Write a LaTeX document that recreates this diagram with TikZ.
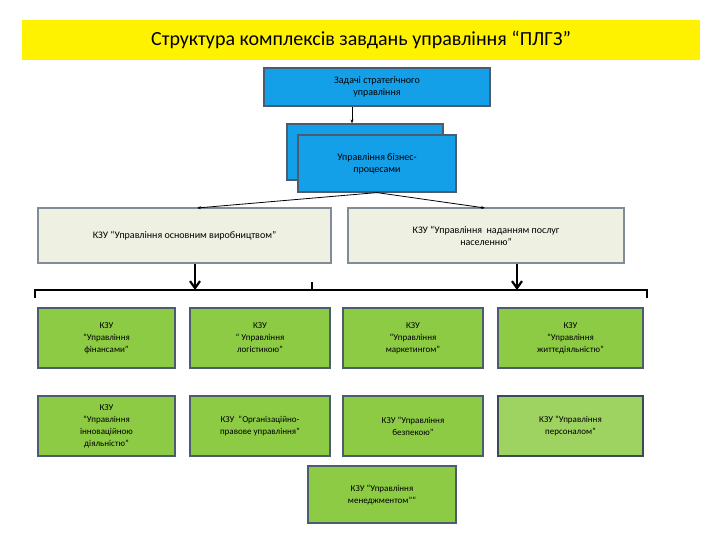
\documentclass[tikz,border=0pt]{standalone}
\usepackage{fontspec}
\setmainfont{Carlito}
\usetikzlibrary{arrows.meta}
\definecolor{blu}{HTML}{14A0E8}
\definecolor{grn}{HTML}{8DCB45}
\definecolor{beige}{HTML}{EEF0E2}
\definecolor{bord}{HTML}{4A5C6E}
\tikzset{
 bx/.style={draw=bord,line width=1.2pt,minimum width=#1,align=center,inner sep=2pt},
 bluebox/.style={bx=#1,fill=blu,font=\fontsize{10}{12}\selectfont},
 bgbox/.style={bx=#1,fill=beige,draw=bord!70,font=\fontsize{10}{12}\selectfont},
 gbox/.style={bx=#1,fill=grn,draw=bord,font=\fontsize{9}{12}\selectfont},
 thin arrow/.style={-{Stealth[length=4pt]},line width=0.8pt},
 fat arrow/.style={-{Straight Barb[length=7pt,width=10pt]},line width=2.2pt},
}
\begin{document}
\begin{tikzpicture}[x=1pt,y=-1pt]
\useasboundingbox (0,0) rectangle (720,540);
\fill[white] (0,0) rectangle (720,540);
\node[fill=yellow,minimum width=678pt,minimum height=40pt,font=\fontsize{20}{24}\selectfont] (title) at (361,40) {Структура комплексів завдань управління “ПЛГЗ”};
\node[bluebox=226pt,minimum height=38pt] (strat) at (377,87) {Задачі стратегічного\\управління};
\node[bluebox=156pt,minimum height=56pt] (back) at (365,152) {};
\node[bluebox=158pt,minimum height=57pt] (bp) at (377,163.5) {Управління бізнес-\\процесами};
\draw[thin arrow] (strat.south -| 352,0) -- (back.north -| 352,0);
\node[bgbox=293pt,minimum height=55pt] (kzu1) at (184.5,235.5) {КЗУ “Управління основним виробництвом”};
\node[bgbox=276pt,minimum height=55pt] (kzu2) at (486,235.5) {КЗУ “Управління \ наданням послуг\\населенню”};
\coordinate (l1) at (197,208); \coordinate (r1) at (485,208);
\draw[thin arrow] (bp.south) -- (l1);
\draw[thin arrow] (bp.south) -- (r1);
\coordinate (bl) at (35,298); \coordinate (br) at (647,298);
\coordinate (ml) at (35,290); \coordinate (mr) at (647,290);
\coordinate (tk) at (312,282); \coordinate (tb) at (312,290);
\draw[line width=2pt] (bl) -- (ml) -- (mr) -- (br);
\draw[line width=2pt] (tk) -- (tb);
\coordinate (a1) at (195,290); \coordinate (a2) at (517,290);
\draw[fat arrow] (kzu1.south -| a1) -- (a1);
\draw[fat arrow] (kzu2.south -| a2) -- (a2);
\node[gbox=137pt,minimum height=60pt] (g1) at (106.5,338) {КЗУ\\“Управління\\фінансами”};
\node[gbox=140pt,minimum height=60pt] (g2) at (260,338) {КЗУ\\“ Управління\\логістикою”};
\node[gbox=140pt,minimum height=60pt] (g3) at (413,338) {КЗУ\\“Управління\\маркетингом”};
\node[gbox=145pt,minimum height=60pt] (g4) at (570.5,338) {КЗУ\\“Управління\\життєдіяльністю”};
\node[gbox=137pt,minimum height=60pt] (g5) at (106.5,426) {КЗУ\\“Управління\\інноваційною\\діяльністю”};
\node[gbox=140pt,minimum height=60pt] (g6) at (260,426) {КЗУ \ “Організаційно-\\правове управління”};
\node[gbox=140pt,minimum height=60pt] (g7) at (413,426) {КЗУ “Управління\\безпекою”};
\node[gbox=145pt,minimum height=60pt,fill=grn!85!white,draw=bord!80!black] (g8) at (570.5,426) {КЗУ “Управління\\персоналом”};
\node[gbox=148pt,minimum height=57pt] (g9) at (382,494.5) {КЗУ “Управління\\менеджментом”“};
\end{tikzpicture}
\end{document}
